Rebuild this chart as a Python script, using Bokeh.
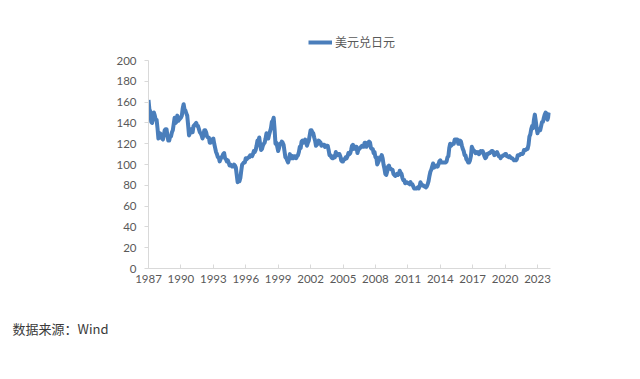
from bokeh.plotting import figure
from bokeh.models import FixedTicker, Legend, LegendItem, Title
from bokeh.embed import file_html
from bokeh.resources import INLINE

# Monthly USD/JPY, Jan 1987 .. Feb 2024
start_year = 1987
usdjpy = [
    162, 153, 151, 141, 140, 146, 150, 147, 143, 143, 135, 125,
    127, 130, 127, 125, 124, 128, 133, 134, 134, 128, 123, 123,
    127, 127, 131, 133, 139, 145, 140, 141, 147, 142, 143, 144,
    145, 147, 154, 158, 153, 152, 149, 147, 138, 128, 130, 134,
    133, 131, 137, 138, 139, 140, 137, 137, 134, 131, 130, 128,
    125, 128, 133, 133, 131, 127, 126, 126, 121, 121, 124, 124,
    125, 120, 116, 112, 110, 107, 107, 103, 105, 107, 108, 110,
    111, 106, 105, 103, 104, 102, 99, 100, 99, 98, 98, 100,
    99, 97, 90, 83, 85, 84, 87, 94, 100, 101, 102, 102,
    106, 105, 106, 107, 107, 109, 109, 108, 110, 113, 112, 114,
    118, 123, 122, 126, 119, 114, 115, 118, 120, 121, 125, 130,
    129, 125, 129, 132, 135, 141, 142, 145, 134, 120, 121, 117,
    113, 116, 120, 120, 122, 121, 119, 113, 107, 106, 104, 102,
    105, 110, 106, 106, 108, 106, 108, 108, 106, 108, 109, 112,
    117, 116, 122, 123, 121, 122, 124, 121, 118, 121, 123, 128,
    133, 133, 131, 130, 126, 123, 118, 119, 120, 123, 122, 121,
    118, 119, 119, 119, 117, 118, 118, 118, 114, 109, 109, 107,
    106, 106, 108, 107, 112, 109, 109, 110, 110, 108, 104, 103,
    103, 105, 105, 107, 106, 108, 111, 110, 111, 114, 118, 119,
    115, 117, 117, 117, 111, 114, 115, 116, 117, 118, 117, 117,
    121, 121, 117, 119, 121, 122, 121, 116, 115, 115, 111, 112,
    107, 107, 100, 102, 104, 107, 106, 109, 106, 100, 96, 91,
    90, 93, 98, 99, 96, 96, 95, 95, 91, 90, 89, 90,
    91, 90, 91, 94, 92, 91, 87, 85, 85, 82, 83, 83,
    82, 82, 81, 83, 81, 81, 79, 77, 77, 77, 77, 78,
    77, 79, 83, 81, 80, 80, 79, 79, 78, 79, 81, 84,
    89, 93, 95, 98, 101, 97, 99, 98, 99, 98, 100, 103,
    104, 102, 102, 102, 102, 102, 102, 103, 107, 108, 116, 120,
    118, 119, 120, 120, 124, 124, 124, 124, 120, 120, 123, 122,
    118, 115, 113, 109, 109, 105, 104, 102, 102, 104, 108, 117,
    115, 113, 113, 111, 112, 111, 112, 110, 111, 113, 112, 113,
    111, 108, 106, 107, 110, 110, 111, 111, 112, 113, 113, 112,
    109, 110, 111, 112, 110, 108, 108, 106, 108, 108, 109, 109,
    110, 110, 108, 108, 107, 108, 107, 106, 106, 105, 104, 104,
    104, 105, 109, 109, 109, 110, 110, 110, 111, 114, 114, 114,
    115, 115, 119, 127, 129, 134, 137, 135, 143, 148, 142, 135,
    130, 133, 134, 133, 137, 141, 141, 145, 148, 150, 149, 143,
    146, 150,
]
x_ticks = list(range(1987, 2024, 3))
y_ticks = list(range(0, 201, 20))
series_name = "美元兑日元"
source_note = "数据来源：Wind"

xs = [start_year + i / 12 for i in range(len(usdjpy))]

p = figure(width=624, height=371, output_backend="svg", toolbar_location=None,
           x_range=(1987, 2024.2), y_range=(0, 230.8),
           min_border_left=148, min_border_right=74,
           min_border_top=28, min_border_bottom=103)
p.outline_line_color = None
p.grid.visible = False
p.background_fill_color = "white"
p.border_fill_color = "white"

r = p.line(xs, usdjpy, line_color="#4a7ebb", line_width=4.0, line_join="round")

axis_color = "#d9d9d9"
label_color = "#595959"
for ax in (p.xaxis[0], p.yaxis[0]):
    ax.axis_line_color = axis_color
    ax.major_tick_line_color = axis_color
    ax.minor_tick_line_color = None
    ax.major_label_text_color = label_color
    ax.major_label_text_font = "Lato"
    ax.major_label_text_font_size = "11.5px"
p.xaxis[0].ticker = FixedTicker(ticks=x_ticks)
p.yaxis[0].ticker = FixedTicker(ticks=y_ticks)
p.yaxis[0].bounds = (0, 200)
p.xaxis[0].major_tick_in = 4
p.xaxis[0].major_tick_out = 0
p.yaxis[0].major_tick_in = 0
p.yaxis[0].major_tick_out = 4
p.xaxis[0].major_label_standoff = 6
p.yaxis[0].major_label_standoff = 8

legend = Legend(items=[LegendItem(label=series_name, renderers=[r])],
                location=(160, 218), orientation="horizontal",
                border_line_color=None, background_fill_alpha=0,
                label_text_font="Noto Sans CJK SC", label_text_font_size="12px",
                label_text_color=label_color, glyph_width=24, glyph_height=16,
                label_standoff=3, padding=2, margin=0)
p.add_layout(legend)

note = Title(text=source_note, align="left", offset=-136, standoff=63,
             text_font="Noto Sans CJK SC", text_font_size="13px",
             text_font_style="normal", text_color="#3a3a3a")
p.add_layout(note, "below")

open("out.html", "w").write(file_html(p, INLINE))
